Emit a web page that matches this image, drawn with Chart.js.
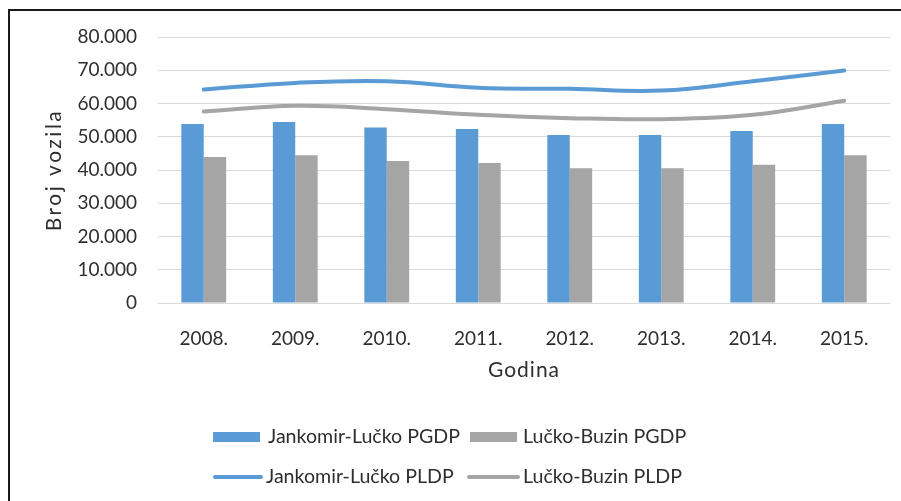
<!DOCTYPE html>
<html>
<head>
<meta charset="utf-8">
<script src="https://cdn.jsdelivr.net/npm/chart.js@4.4.1/dist/chart.umd.min.js"></script>
<style>
  html, body { margin: 0; padding: 0; background: #fff; }
</style>
</head>
<body>
<canvas id="myChart" width="901" height="501"></canvas>
<script>
// Podaci
const godine = ["2008.", "2009.", "2010.", "2011.", "2012.", "2013.", "2014.", "2015."];
const jankomirPGDP = [53800, 54400, 52800, 52300, 50500, 50500, 51700, 53800];
const buzinPGDP = [43900, 44400, 42700, 42100, 40500, 40500, 41600, 44400];
const jankomirPLDP = [64200, 66200, 66700, 64700, 64400, 63900, 66700, 69900];
const buzinPLDP = [57600, 59300, 58300, 56600, 55600, 55300, 56600, 60800];

const plava = "#5b9bd5";
const siva = "#a5a5a5";
const tekst = "#2e2e2e";

Chart.defaults.font.family = "Lato";
Chart.defaults.font.size = 19;
Chart.defaults.color = tekst;

function formatBroj(v) {
  return String(v).replace(/\B(?=(\d{3})+(?!\d))/g, ".");
}

// okvir slike (lijevo i gore)
const okvir = {
  id: "okvir",
  beforeDraw(chart) {
    const ctx = chart.ctx;
    ctx.save();
    ctx.fillStyle = "#fff";
    ctx.fillRect(0, 0, chart.width, chart.height);
    ctx.strokeStyle = "#1a1a1a";
    ctx.lineWidth = 2;
    ctx.beginPath();
    ctx.moveTo(9, chart.height);
    ctx.lineTo(9, 10);
    ctx.lineTo(chart.width, 10);
    ctx.stroke();
    ctx.restore();
  }
};

// malo razmaka izmedju slova u naslovima osi
const razmak = {
  id: "razmak",
  afterLayout(chart) {
    const sp = { x: "1px", y: "2.5px" };
    Object.keys(sp).forEach((id) => {
      const s = chart.scales[id];
      if (!s || s._razmak) return;
      const orig = s.drawTitle;
      s.drawTitle = function () {
        const ctx = this.ctx;
        ctx.save();
        ctx.letterSpacing = sp[id];
        orig.call(this);
        ctx.restore();
      };
      s._razmak = true;
    });
  }
};

// legenda u dva reda
const legenda = {
  id: "legenda",
  afterDraw(chart) {
    const ctx = chart.ctx;
    const mjesta = [
      { x: 213, y: 437, tx: 268 },
      { x: 470, y: 437, tx: 523 },
      { x: 213, y: 477, tx: 266 },
      { x: 467, y: 477, tx: 523 }
    ];
    ctx.save();
    ctx.font = "19.6px Lato";
    ctx.textBaseline = "middle";
    chart.data.datasets.forEach((d, i) => {
      const m = mjesta[i];
      if (d.type === "line") {
        ctx.strokeStyle = d.borderColor;
        ctx.lineWidth = 4;
        ctx.lineCap = "round";
        ctx.beginPath();
        ctx.moveTo(m.x + 2, m.y);
        ctx.lineTo(m.tx - 5, m.y);
        ctx.stroke();
      } else {
        ctx.fillStyle = d.backgroundColor;
        ctx.fillRect(m.x, m.y - 5, 47, 10);
      }
      ctx.fillStyle = tekst;
      ctx.fillText(d.label, m.tx, m.y);
    });
    ctx.restore();
  }
};

const data = {
  labels: godine,
  datasets: [
    {
      type: "bar",
      label: "Jankomir-Lučko PGDP",
      backgroundColor: plava,
      data: jankomirPGDP,
      order: 2
    },
    {
      type: "bar",
      label: "Lučko-Buzin PGDP",
      backgroundColor: siva,
      data: buzinPGDP,
      order: 2
    },
    {
      type: "line",
      label: "Jankomir-Lučko PLDP",
      borderColor: plava,
      backgroundColor: plava,
      borderWidth: 4,
      borderCapStyle: "round",
      pointRadius: 0,
      tension: 0.4,
      data: jankomirPLDP,
      order: 1
    },
    {
      type: "line",
      label: "Lučko-Buzin PLDP",
      borderColor: siva,
      backgroundColor: siva,
      borderWidth: 4,
      borderCapStyle: "round",
      pointRadius: 0,
      tension: 0.4,
      data: buzinPLDP,
      order: 1
    }
  ]
};

const config = {
  type: "bar",
  data: data,
  plugins: [okvir, razmak, legenda],
  options: {
    responsive: false,
    animation: false,
    layout: {
      padding: { top: 37, right: 11, bottom: 118, left: 0 }
    },
    datasets: {
      bar: { categoryPercentage: 0.49, barPercentage: 1 }
    },
    plugins: {
      legend: { display: false },
      tooltip: { enabled: false }
    },
    scales: {
      x: {
        grid: { display: false },
        border: { display: false },
        ticks: { padding: 16, color: tekst, maxRotation: 0 },
        title: {
          display: true,
          text: "Godina",
          color: tekst,
          font: { size: 21 },
          padding: { top: 4, bottom: 0 }
        },
        afterFit(scale) { scale.height = 80; }
      },
      y: {
        min: 0,
        max: 80000,
        grid: { color: "#d9d9d9", drawTicks: false },
        border: { display: false },
        ticks: {
          stepSize: 10000,
          padding: 21,
          color: tekst,
          callback: (v) => formatBroj(v)
        },
        title: {
          display: true,
          text: "Broj vozila",
          color: tekst,
          font: { size: 21 },
          padding: { top: 42, bottom: 0 }
        },
        afterFit(scale) { scale.width = 158; }
      }
    }
  }
};

const myChart = new Chart(document.getElementById("myChart"), config);
</script>
</body>
</html>
